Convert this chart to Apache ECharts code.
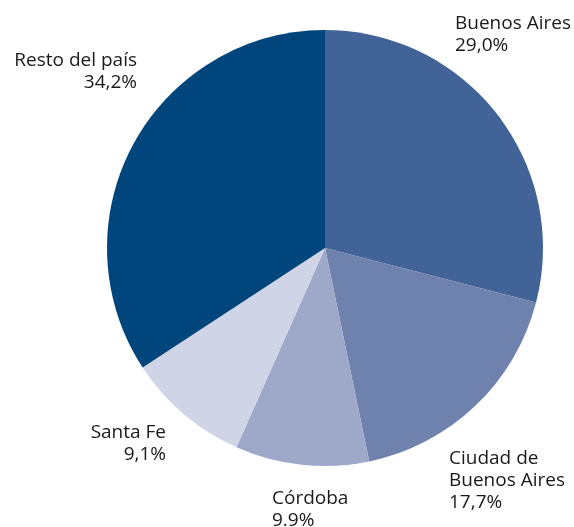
<!DOCTYPE html>
<html>
<head>
<meta charset="utf-8">
<script src="https://cdn.jsdelivr.net/npm/echarts@6/dist/echarts.min.js"></script>
<style>
  html, body { margin: 0; padding: 0; background: #fff; }
  #main { width: 574px; height: 527px; }
</style>
</head>
<body>
<div id="main"></div>
<script>
var names = ['Buenos Aires', 'Ciudad de\nBuenos Aires', 'Córdoba', 'Santa Fe', 'Resto del país']
var values = [29.0, 17.7, 9.9, 9.1, 34.2]
var pctText = ['29,0%', '17,7%', '9.9%', '9,1%', '34,2%']
var colors = ['#426397', '#6f82ae', '#9ea9ca', '#cfd4e7', '#00457c']

// label anchor spots (top of first line) and alignment
var labelSpots = [
  { x: 455, y: 13, align: 'left' },
  { x: 449, y: 448, align: 'left' },
  { x: 272, y: 488, align: 'left' },
  { x: 166, y: 422, align: 'right' },
  { x: 137, y: 50, align: 'right' }
]

var chart = echarts.init(document.getElementById('main'))

chart.setOption({
  backgroundColor: '#fff',
  animation: false,
  series: [{
    type: 'pie',
    center: [325, 248],
    radius: 218,
    startAngle: 90,
    clockwise: true,
    avoidLabelOverlap: false,
    data: names.map(function (n, i) {
      return { name: n, value: values[i], itemStyle: { color: colors[i] } }
    }),
    label: {
      show: true,
      position: 'outside',
      alignTo: 'none',
      overflow: 'none',
      color: '#1a1a1a',
      fontFamily: 'Open Sans',
      fontSize: 19,
      lineHeight: 22,
      formatter: function (p) {
        return p.name + '\n' + pctText[p.dataIndex]
      }
    },
    labelLine: { show: false },
    labelLayout: function (p) {
      var s = labelSpots[p.dataIndex]
      return { x: s.x, y: s.y, align: s.align, verticalAlign: 'top' }
    }
  }]
})
</script>
</body>
</html>
